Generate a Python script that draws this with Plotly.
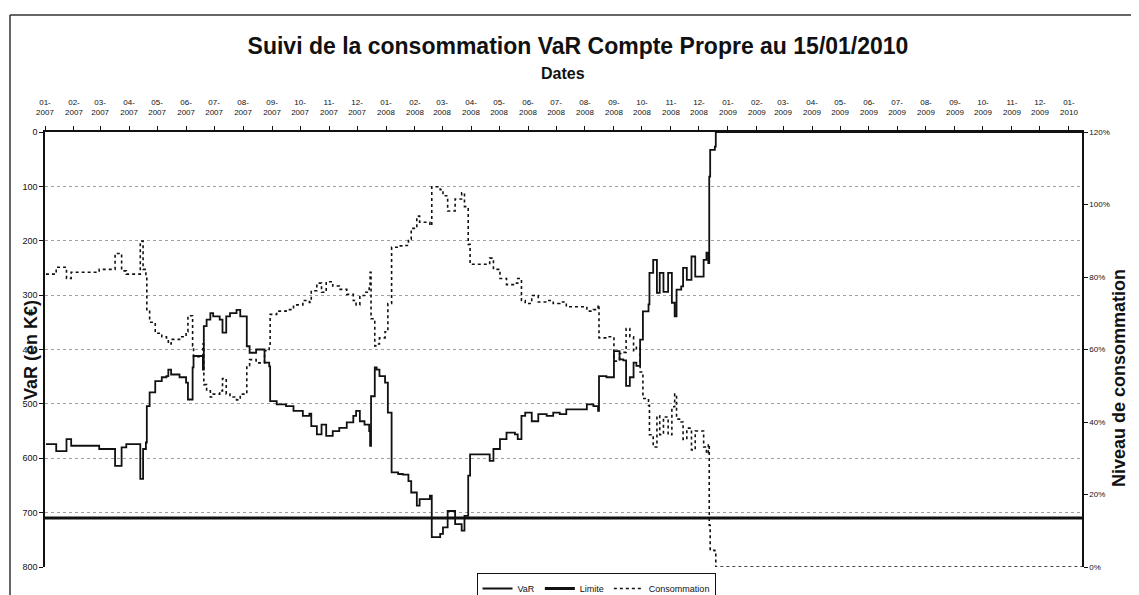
import plotly.graph_objects as go
import pandas as pd

# ---------------- data ----------------
dates = [
    "2007-01-02", "2007-01-13", "2007-01-24", "2007-01-29", "2007-02-28", "2007-03-15", "2007-03-17", "2007-03-22", "2007-03-24", "2007-03-29",
    "2007-04-11", "2007-04-13", "2007-04-16", "2007-04-19", "2007-04-20", "2007-04-23", "2007-04-29", "2007-05-06", "2007-05-11", "2007-05-13",
    "2007-05-16", "2007-05-25", "2007-06-01", "2007-06-03", "2007-06-07", "2007-06-08", "2007-06-09", "2007-06-18", "2007-06-19", "2007-06-20",
    "2007-06-23", "2007-06-27", "2007-06-30", "2007-07-07", "2007-07-10", "2007-07-13", "2007-07-14", "2007-07-18", "2007-07-25", "2007-07-29",
    "2007-08-01", "2007-08-05", "2007-08-08", "2007-08-15", "2007-08-21", "2007-08-24", "2007-08-29", "2007-08-30", "2007-09-06", "2007-09-16",
    "2007-09-24", "2007-10-04", "2007-10-11", "2007-10-13", "2007-10-19", "2007-10-24", "2007-10-29", "2007-11-05", "2007-11-12", "2007-11-20",
    "2007-11-27", "2007-11-30", "2007-12-04", "2007-12-09", "2007-12-14", "2007-12-15", "2007-12-16", "2007-12-20", "2007-12-22", "2007-12-25",
    "2007-12-31", "2008-01-03", "2008-01-07", "2008-01-14", "2008-01-19", "2008-01-25", "2008-01-28", "2008-02-03", "2008-02-06", "2008-02-17",
    "2008-02-19", "2008-02-28", "2008-03-02", "2008-03-07", "2008-03-15", "2008-03-22", "2008-03-25", "2008-03-29", "2008-03-31", "2008-04-14",
    "2008-04-21", "2008-04-25", "2008-05-02", "2008-05-09", "2008-05-18", "2008-05-21", "2008-05-25", "2008-05-29", "2008-06-05", "2008-06-12",
    "2008-06-21", "2008-06-28", "2008-07-05", "2008-07-12", "2008-07-23", "2008-08-03", "2008-08-10", "2008-08-15", "2008-08-16", "2008-08-24",
    "2008-08-31", "2008-09-01", "2008-09-07", "2008-09-11", "2008-09-14", "2008-09-18", "2008-09-22", "2008-09-25", "2008-09-29", "2008-10-02",
    "2008-10-08", "2008-10-09", "2008-10-13", "2008-10-17", "2008-10-20", "2008-10-24", "2008-10-29", "2008-11-02", "2008-11-05", "2008-11-07",
    "2008-11-12", "2008-11-14", "2008-11-18", "2008-11-23", "2008-11-27", "2008-12-02", "2008-12-06", "2008-12-09", "2008-12-11", "2008-12-12",
    "2008-12-13", "2008-12-18", "2008-12-19", "2010-01-15",
]

var_k = [
    574, 587, 565, 577, 583, 583, 614, 614, 580, 574,
    574, 638, 583, 571, 504, 479, 458, 451, 449, 437,
    446, 451, 461, 492, 492, 433, 412, 412, 437, 357,
    345, 333, 339, 345, 369, 369, 339, 333, 327, 339,
    339, 394, 406, 400, 400, 424, 431, 495, 501, 504,
    513, 522, 518, 541, 556, 538, 559, 550, 544, 534,
    522, 513, 532, 538, 550, 577, 486, 433, 437, 449,
    461, 516, 626, 629, 630, 642, 663, 687, 675, 669,
    745, 739, 727, 697, 721, 733, 706, 632, 593, 593,
    605, 583, 565, 553, 556, 565, 522, 516, 532, 519,
    522, 516, 519, 510, 510, 501, 504, 513, 449, 451,
    451, 403, 418, 420, 467, 451, 424, 430, 382, 330,
    317, 259, 235, 296, 259, 294, 259, 314, 339, 290,
    284, 250, 272, 229, 266, 266, 235, 222, 241, 82,
    33, 27, 0, 0,
]

conso_pct = [
    80.8, 82.7, 79.6, 81.3, 82.1, 82.1, 86.5, 86.5, 81.7, 80.8,
    80.8, 89.9, 82.1, 80.4, 71.0, 67.5, 64.5, 63.5, 63.2, 61.5,
    62.8, 63.5, 64.9, 69.3, 69.3, 61.0, 58.0, 58.0, 61.5, 50.3,
    48.6, 46.9, 47.7, 48.6, 52.0, 52.0, 47.7, 46.9, 46.1, 47.7,
    47.7, 55.5, 57.2, 56.3, 56.3, 59.7, 60.7, 69.7, 70.6, 71.0,
    72.3, 73.5, 73.0, 76.2, 78.3, 75.8, 78.7, 77.5, 76.6, 75.2,
    73.5, 72.3, 74.9, 75.8, 77.5, 81.3, 68.5, 61.0, 61.5, 63.2,
    64.9, 72.7, 88.2, 88.6, 88.7, 90.4, 93.4, 96.8, 95.1, 94.2,
    104.9, 104.1, 102.4, 98.2, 101.5, 103.2, 99.4, 89.0, 83.5, 83.5,
    85.2, 82.1, 79.6, 77.9, 78.3, 79.6, 73.5, 72.7, 74.9, 73.1,
    73.5, 72.7, 73.1, 71.8, 71.8, 70.6, 71.0, 72.3, 63.2, 63.5,
    63.5, 56.8, 58.9, 59.2, 65.8, 63.5, 59.7, 60.6, 53.8, 46.5,
    44.6, 36.5, 33.1, 41.7, 36.5, 41.4, 36.5, 44.2, 47.7, 40.8,
    40.0, 35.2, 38.3, 32.3, 37.5, 37.5, 33.1, 31.3, 33.9, 11.5,
    4.6, 3.8, 0, 0,
]

limite_dates = ["2007-01-01", "2010-01-15"]
limite_k = [710, 710]

assert len(dates) == len(var_k) == len(conso_pct)

tick_months = pd.date_range("2007-01-01", "2010-01-01", freq="MS")
tick_labels = [d.strftime("%m-<br>%Y") for d in tick_months]

left_ticks = [0, 100, 200, 300, 400, 500, 600, 700, 800]
right_ticks = [0, 20, 40, 60, 80, 100, 120]
right_labels = ["0%", "20%", "40%", "60%", "80%", "100%", "120%"]

FONT = "Liberation Sans, Arial, sans-serif"
INK = "#111111"

fig = go.Figure()
fig.add_trace(go.Scatter(
    x=dates, y=var_k, name="VaR", mode="lines", line_shape="hv",
    line=dict(color=INK, width=1.8),
))
fig.add_trace(go.Scatter(
    x=limite_dates, y=limite_k, name="Limite", mode="lines",
    line=dict(color=INK, width=3),
))
fig.add_trace(go.Scatter(
    x=dates, y=conso_pct, name="Consommation", mode="lines", line_shape="hv",
    line=dict(color=INK, width=1.6, dash="dot"), yaxis="y2",
))

axis_common = dict(
    showline=True, linecolor=INK, linewidth=1.5, ticks="outside",
    tickcolor=INK, ticklen=4, tickwidth=1.2, zeroline=False,
    tickfont=dict(family=FONT, size=8, color=INK),
)

# the page shows the figure about 8 px right/down; plot area chosen to match
fig.update_layout(
    width=1139, height=595,
    margin=dict(l=37, r=65, t=124, b=36, autoexpand=False),
    paper_bgcolor="white", plot_bgcolor="white",
    font=dict(family=FONT, color=INK),
    title=dict(
        text="<b>Suivi de la consommation VaR Compte Propre au 15/01/2010</b>",
        font=dict(family=FONT, size=23, color=INK),
        x=570 / 1139, xanchor="center", xref="container",
        y=1 - 38 / 595, yanchor="middle", yref="container",
    ),
    xaxis=dict(
        type="date", side="top", range=["2007-01-01", "2010-01-15"],
        tickvals=list(tick_months), ticktext=tick_labels, tickangle=0,
        ticklabelstandoff=8, showgrid=False, mirror=False,
        **axis_common,
    ),
    yaxis=dict(
        range=[800, 0], tickvals=left_ticks, showgrid=True,
        gridcolor="#a0a0a0", griddash="dot", gridwidth=1,
        **{**axis_common, "tickfont": dict(family=FONT, size=9, color=INK)},
    ),
    yaxis2=dict(
        range=[0, 120], tickvals=right_ticks, ticktext=right_labels,
        overlaying="y", side="right", showgrid=False,
        **axis_common,
    ),
    showlegend=True,
    legend=dict(
        orientation="h", xref="paper", x=(596 - 45) / 1037, xanchor="center",
        yref="container", y=1 - 565 / 595, yanchor="top",
        bgcolor="white", bordercolor=INK, borderwidth=1,
        font=dict(family=FONT, size=9, color=INK),
        itemwidth=30, tracegroupgap=0,
    ),
    annotations=[
        dict(text="<b>Dates</b>", xref="paper", yref="paper",
             x=(563 - 45) / 1037, y=(567 - 73) / 435, showarrow=False,
             xanchor="center", yanchor="middle",
             font=dict(family=FONT, size=16, color=INK)),
        dict(text="<b>VaR (en K€)</b>", xref="paper", yref="paper",
             x=(31 - 45) / 1037, y=(567 - 350) / 435, textangle=-90,
             showarrow=False, xanchor="center", yanchor="middle",
             font=dict(family=FONT, size=18, color=INK)),
        dict(text="<b>Niveau de consommation</b>", xref="paper", yref="paper",
             x=(1119 - 45) / 1037, y=(567 - 378) / 435, textangle=-90,
             showarrow=False, xanchor="center", yanchor="middle",
             font=dict(family=FONT, size=18, color=INK)),
    ],
    shapes=[
        dict(type="line", xref="paper", yref="paper",
             x0=(10 - 45) / 1037, x1=(1145 - 45) / 1037,
             y0=(567 - 15) / 435, y1=(567 - 15) / 435,
             line=dict(color="#333333", width=1.5)),
        dict(type="line", xref="paper", yref="paper",
             x0=(10 - 45) / 1037, x1=(10 - 45) / 1037,
             y0=(567 - 15) / 435, y1=(567 - 600) / 435,
             line=dict(color="#333333", width=1.5)),
    ],
)

fig.write_html("out.html")
